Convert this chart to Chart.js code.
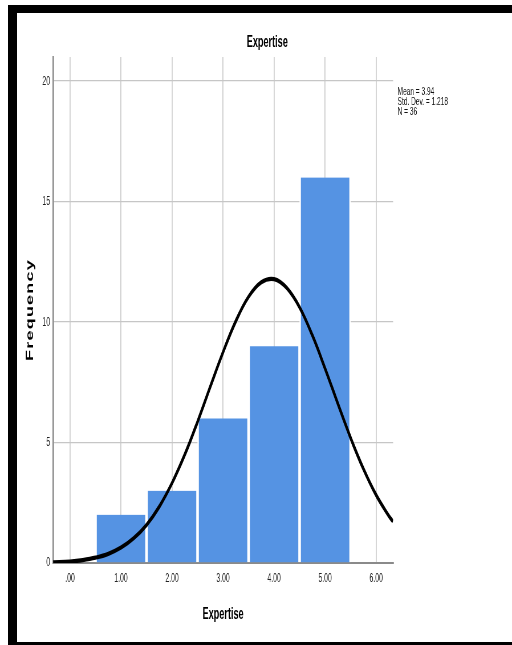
<!DOCTYPE html>
<html>
<head>
<meta charset="utf-8">
<script src="https://cdn.jsdelivr.net/npm/chart.js@4.4.1/dist/chart.umd.min.js"></script>
<style>
  html, body { margin: 0; padding: 0; background: #fff; }
  #wrap { position: relative; width: 512px; height: 645px; overflow: hidden; background: #fff; }
  #c { position: absolute; left: 0; top: 0; }
  .frame { position: absolute; background: #000; }
</style>
</head>
<body>
<div id="wrap">
  <canvas id="c" style="width:512px;height:645px;"></canvas>
  <div class="frame" style="left:8px;top:5px;width:504px;height:8px;"></div>
  <div class="frame" style="left:8px;top:5px;width:9px;height:640px;"></div>
  <div class="frame" style="left:8px;top:642px;width:504px;height:3px;"></div>
</div>
<script>
// ---- data ----
const binCenters = [1, 2, 3, 4, 5];
const frequencies = [2, 3, 6, 9, 16];

const curveX = [-0.33, 0, 0.25, 0.5, 0.75, 1, 1.25, 1.5, 1.75, 2, 2.25, 2.5, 2.75, 3, 3.25, 3.5, 3.75, 4, 4.25, 4.5, 4.75, 5, 5.25, 5.5, 5.75, 6, 6.25, 6.33];
const curveY = [0.03, 0.06, 0.12, 0.22, 0.38, 0.64, 1.03, 1.58, 2.34, 3.32, 4.50, 5.86, 7.32, 8.75, 10.04, 11.05, 11.65, 11.78, 11.41, 10.61, 9.45, 8.07, 6.61, 5.19, 3.91, 2.82, 1.95, 1.72];

const xTickValues = [0, 1, 2, 3, 4, 5, 6];
const xTickLabels = ['.00', '1.00', '2.00', '3.00', '4.00', '5.00', '6.00'];
const yTickValues = [0, 5, 10, 15, 20];

const chartTitle = 'Expertise';
const xAxisTitle = 'Expertise';
const yAxisTitle = 'Frequency';
const statsLines = ['Mean = 3.94', 'Std. Dev. = 1.218', 'N = 36'];

// ---- canvas drawn wide, shown narrow (like the stretched original) ----
const S = 0.57;
const W = Math.round(512 / S);
const H = 645;
const FAMILY = '"Liberation Sans", Arial, Helvetica, sans-serif';

const canvas = document.getElementById('c');
canvas.width = W;
canvas.height = H;
canvas.style.width = '512px';
canvas.style.height = '645px';

const textPlugin = {
  id: 'texts',
  afterDraw(chart) {
    const ctx = chart.ctx;
    const a = chart.chartArea;
    ctx.save();
    ctx.fillStyle = '#000';
    ctx.textBaseline = 'alphabetic';
    ctx.textAlign = 'center';
    ctx.font = 'bold 16px ' + FAMILY;
    ctx.fillText(chartTitle, 267.2 / S, 46.7);
    ctx.fillText(xAxisTitle, (a.left + a.right) / 2, 619);
    ctx.font = '11.5px ' + FAMILY;
    ctx.fillStyle = '#111';
    ctx.textAlign = 'left';
    statsLines.forEach((t, i) => ctx.fillText(t, 397.5 / S, 94.7 + i * 10.3));
    ctx.fillStyle = '#000';
    ctx.translate(33.2 / S, (a.top + a.bottom) / 2);
    ctx.rotate(-Math.PI / 2);
    ctx.textAlign = 'center';
    ctx.font = 'bold 18px ' + FAMILY;
    try { ctx.letterSpacing = '1.2px'; } catch (e) {}
    ctx.fillText(yAxisTitle, 0, 0);
    ctx.restore();
  }
};

new Chart(canvas, {
  type: 'bar',
  data: {
    datasets: [
      {
        type: 'line',
        data: curveX.map((x, i) => ({ x: x, y: curveY[i] })),
        borderColor: '#000',
        borderWidth: 4.2,
        pointRadius: 0,
        tension: 0.4,
        fill: false,
        order: 0
      },
      {
        type: 'bar',
        data: binCenters.map((x, i) => ({ x: x, y: frequencies[i] })),
        backgroundColor: '#5593e3',
        borderColor: '#ffffff',
        borderWidth: { left: 2.6, right: 2.6, top: 0, bottom: 0 },
        borderSkipped: false,
        barPercentage: 1,
        categoryPercentage: 1,
        order: 1
      }
    ]
  },
  options: {
    responsive: false,
    animation: false,
    devicePixelRatio: 1,
    layout: { padding: { top: 57, right: W - 393 / S, left: 0, bottom: 0 } },
    plugins: {
      legend: { display: false },
      tooltip: { enabled: false },
      title: { display: false }
    },
    scales: {
      x: {
        type: 'linear',
        min: -0.333,
        max: 6.333,
        offset: false,
        afterBuildTicks: s => { s.ticks = xTickValues.map(v => ({ value: v })); },
        afterFit: s => { s.height = 82; },
        ticks: {
          callback: (v, i) => xTickLabels[i],
          font: { size: 12, family: FAMILY },
          color: '#222',
          padding: 8,
          maxRotation: 0,
          autoSkip: false
        },
        grid: { offset: false, color: '#cdcdcd', lineWidth: 1.75, drawTicks: false },
        border: { color: '#8a8a8a', width: 2 }
      },
      y: {
        min: 0,
        max: 21,
        afterBuildTicks: s => { s.ticks = yTickValues.map(v => ({ value: v })); },
        afterFit: s => { s.width = 53 / S; },
        ticks: {
          font: { size: 12.5, family: FAMILY },
          color: '#222',
          padding: 5
        },
        grid: { color: '#c6c6c6', lineWidth: 1.3, drawTicks: false },
        border: { color: '#8a8a8a', width: 2.6 }
      }
    }
  },
  plugins: [textPlugin]
});
</script>
</body>
</html>
